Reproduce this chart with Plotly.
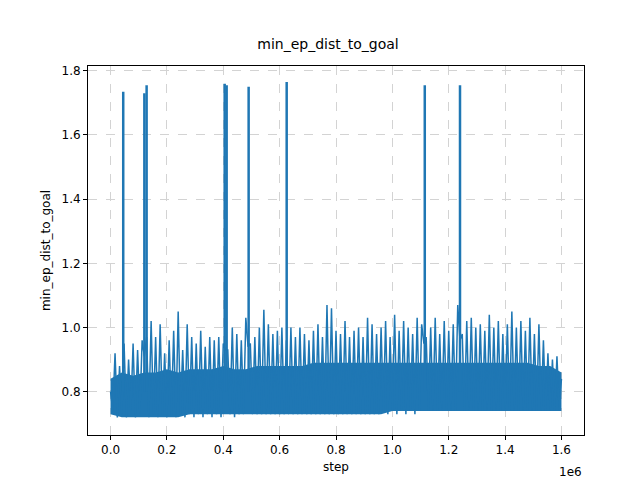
import plotly.graph_objects as go

# noisy per-step trace (peaks and troughs of the dense band)
steps = list(range(0, 1600001, 8000))
dist = [
    0.80, 0.74, 0.92, 0.72, 0.88, 0.73, 0.95, 0.72, 0.90, 0.74, 0.95, 0.72, 0.93, 0.73, 0.96, 0.91, 0.97, 0.72, 1.02, 0.73,
    0.97, 0.72, 1.01, 0.73, 0.92, 0.72, 0.96, 0.73, 0.99, 0.72, 1.05, 0.73, 0.93, 0.72, 1.01, 0.73, 0.97, 0.72, 0.95, 0.73,
    0.99, 0.72, 0.94, 0.73, 0.97, 0.72, 0.96, 0.73, 0.97, 0.72, 0.95, 0.93, 0.93, 0.73, 1.00, 0.72, 0.98, 0.73, 0.96, 0.73,
    1.03, 0.94, 0.95, 0.73, 0.97, 0.73, 1.00, 0.73, 1.055, 0.73, 1.01, 0.73, 0.98, 0.73, 0.99, 0.73, 1.00, 0.73, 0.96, 0.73,
    1.00, 0.73, 0.97, 0.73, 1.00, 0.73, 0.98, 0.73, 0.96, 0.73, 0.99, 0.73, 1.01, 0.73, 0.97, 0.73, 1.07, 0.73, 1.06, 0.73,
    0.99, 0.73, 0.98, 0.73, 1.02, 0.73, 0.97, 0.73, 0.99, 0.73, 1.00, 0.73, 0.97, 0.73, 1.03, 0.73, 1.01, 0.73, 0.98, 0.73,
    1.00, 0.74, 1.02, 0.73, 0.97, 0.74, 1.04, 0.73, 0.99, 0.74, 1.02, 0.73, 1.00, 0.74, 0.98, 0.73, 1.03, 0.74, 1.01, 0.95,
    0.97, 0.74, 1.00, 0.74, 1.03, 0.74, 0.98, 0.74, 1.02, 0.74, 0.99, 0.74, 1.01, 0.74, 1.07, 0.96, 0.98, 0.74, 1.02, 0.74,
    1.03, 0.74, 1.00, 0.74, 1.01, 0.74, 0.99, 0.74, 1.04, 0.74, 1.00, 0.74, 1.02, 0.74, 0.98, 0.74, 1.01, 0.74, 1.05, 0.74,
    1.00, 0.74, 1.02, 0.74, 0.99, 0.74, 1.03, 0.74, 0.98, 0.74, 1.01, 0.74, 0.96, 0.74, 0.92, 0.74, 0.90, 0.74, 0.91, 0.74,
    0.84,
]

# solid body of the band (where the line is dense enough to look filled)
band_steps = list(range(0, 1600001, 40000))
band_low = [0.73, 0.72, 0.72, 0.72, 0.72, 0.72, 0.72, 0.73, 0.73, 0.73, 0.73, 0.73, 0.73, 0.73, 0.73, 0.73, 0.73,
            0.73, 0.73, 0.73, 0.73, 0.73, 0.73, 0.73, 0.73, 0.74, 0.74, 0.74, 0.74, 0.74, 0.74, 0.74, 0.74,
            0.74, 0.74, 0.74, 0.74, 0.74, 0.74, 0.74, 0.74]
band_high = [0.84, 0.86, 0.85, 0.86, 0.86, 0.87, 0.86, 0.87, 0.87, 0.87, 0.88, 0.87, 0.87, 0.88, 0.88, 0.88, 0.88,
             0.88, 0.89, 0.89, 0.89, 0.89, 0.89, 0.89, 0.89, 0.89, 0.89, 0.89, 0.89, 0.89, 0.89, 0.89, 0.89,
             0.89, 0.89, 0.89, 0.89, 0.89, 0.88, 0.88, 0.86]

# isolated spikes
spike_steps = [45000, 120000, 128000, 405000, 412000, 490000, 625000, 1115000, 1240000]
spike_peaks = [1.735, 1.73, 1.755, 1.76, 1.755, 1.75, 1.765, 1.755, 1.755]

x_ticks = [0, 200000, 400000, 600000, 800000, 1000000, 1200000, 1400000, 1600000]
x_labels = ["0.0", "0.2", "0.4", "0.6", "0.8", "1.0", "1.2", "1.4", "1.6"]
y_ticks = [0.8, 1.0, 1.2, 1.4, 1.6, 1.8]

blue = "#1f77b4"
fig = go.Figure()
fig.add_trace(go.Scatter(x=band_steps, y=band_low, mode="lines", line=dict(color=blue, width=0)))
fig.add_trace(go.Scatter(x=band_steps, y=band_high, mode="lines", line=dict(color=blue, width=0),
                         fill="tonexty", fillcolor=blue))
fig.add_trace(go.Scatter(x=steps, y=dist, mode="lines", line=dict(color=blue, width=1.5)))

sx, sy = [], []
for s, p in zip(spike_steps, spike_peaks):
    sx += [s, s, None]
    sy += [0.8, p, None]
fig.add_trace(go.Scatter(x=sx, y=sy, mode="lines", line=dict(color=blue, width=2.5)))

axis_style = dict(showline=True, linecolor="black", linewidth=1, mirror=True,
                  ticks="outside", ticklen=4, tickcolor="black", automargin=False,
                  showgrid=True, gridcolor="#d3d3d3", griddash="dash",
                  zeroline=False, tickfont=dict(size=12, color="black"))

fig.update_layout(
    width=640, height=480, template="none",
    paper_bgcolor="white", plot_bgcolor="white",
    font=dict(family="DejaVu Sans", color="black"),
    title=dict(text="min_ep_dist_to_goal", x=0.5, xanchor="center", y=0.935, font=dict(size=14)),
    margin=dict(l=80, r=64, t=58, b=53),
    showlegend=False,
    xaxis=dict(axis_style, range=[-80000, 1680000], tickvals=x_ticks, ticktext=x_labels,
               title=dict(text="step", font=dict(size=12), standoff=6)),
    yaxis=dict(axis_style, range=[0.665, 1.815], tickvals=y_ticks, tickformat=".1f",
               title=dict(text="min_ep_dist_to_goal", font=dict(size=12), standoff=8)),
    annotations=[dict(text="1e6", xref="paper", yref="paper", x=1, y=-0.075,
                      xanchor="right", yanchor="top", showarrow=False, font=dict(size=12))],
)

fig.write_html("out.html")
